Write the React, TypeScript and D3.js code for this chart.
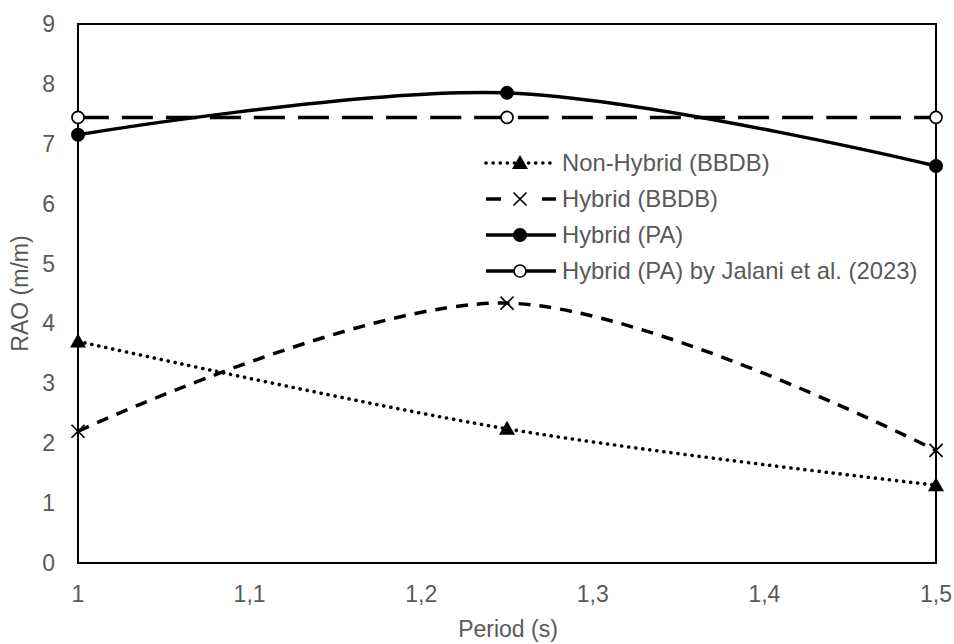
import React from "react";
import * as d3 from "d3";

const periods = [1, 1.25, 1.5];
const nonHybridBBDB = [3.7, 2.24, 1.3];
const hybridBBDB = [2.2, 4.34, 1.88];
const hybridPA = [7.15, 7.85, 6.63];
const hybridPAJalani = [7.44, 7.44, 7.44];

const xTicks = [1, 1.1, 1.2, 1.3, 1.4, 1.5];
const yTicks = [0, 1, 2, 3, 4, 5, 6, 7, 8, 9];

const legendLabels = [
  "Non-Hybrid (BBDB)",
  "Hybrid (BBDB)",
  "Hybrid (PA)",
  "Hybrid (PA) by Jalani et al. (2023)",
];

const W = 954;
const H = 644;
const L = 78, R = 936, T = 24, B = 563;
const textColor = "#595959";
const font = "'Liberation Sans', Arial, sans-serif";
const FS = 23;
const LFS = 23.8;

function Marker({ kind, x, y }: { kind: string; x: number; y: number }) {
  if (kind === "tri") {
    const s = 8;
    return <path d={`M${x},${y - s} L${x + s},${y + s * 0.75} L${x - s},${y + s * 0.75} Z`} fill="#000" />;
  }
  if (kind === "x") {
    const s = 6.5;
    return (
      <path d={`M${x - s},${y - s} L${x + s},${y + s} M${x - s},${y + s} L${x + s},${y - s}`} stroke="#000" strokeWidth={1.7} fill="none" />
    );
  }
  if (kind === "dot") return <circle cx={x} cy={y} r={7} fill="#000" />;
  return <circle cx={x} cy={y} r={6} fill="#fff" stroke="#000" strokeWidth={1.7} />;
}

export default function App() {
  const x = d3.scaleLinear().domain([1, 1.5]).range([L, R]);
  const y = d3.scaleLinear().domain([0, 9]).range([B, T]);
  const line = d3
    .line<number>()
    .x((_, i) => x(periods[i]))
    .y((d) => y(d))
    .curve(d3.curveCardinal.tension(0));

  const series = [
    { data: nonHybridBBDB, marker: "tri", dash: "0.1,7", width: 3.6, cap: "round", lDash: "0.1,7" },
    { data: hybridBBDB, marker: "x", dash: "12,9", width: 3.5, cap: "butt", lDash: "15,42" },
    { data: hybridPA, marker: "dot", dash: "none", width: 3.5, cap: "butt", lDash: "none" },
    { data: hybridPAJalani, marker: "open", dash: "31,13", width: 3.5, cap: "butt", lDash: "none" },
  ];
  const fmt = (v: number) => String(v).replace(".", ",");

  return (
    <svg width={W} height={H} style={{ position: "absolute", left: 0, top: 0, background: "#fff" }} fontFamily={font}>
      <rect x={0} y={0} width={W} height={H} fill="#fff" />
      <rect x={L} y={T} width={R - L} height={B - T} fill="none" stroke="#000" strokeWidth={2} />
      {yTicks.map((t) => (
        <text key={t} x={55} y={y(t)} dy="0.35em" textAnchor="end" fontSize={FS} fill={textColor}>
          {t}
        </text>
      ))}
      {xTicks.map((t) => (
        <text key={t} x={x(t)} y={594} dy="0.35em" textAnchor="middle" fontSize={FS} fill={textColor}>
          {fmt(t)}
        </text>
      ))}
      <text x={508} y={629} dy="0.35em" textAnchor="middle" fontSize={FS} fill={textColor}>
        Period (s)
      </text>
      <text transform={`translate(20,${(T + B) / 2}) rotate(-90)`} dy="0.35em" textAnchor="middle" fontSize={FS} fill={textColor}>
        RAO (m/m)
      </text>
      {[...series].reverse().map((s, k) => (
        <path
          key={k}
          d={line(s.data) || ""}
          fill="none"
          stroke="#000"
          strokeWidth={s.width}
          strokeDasharray={s.dash}
          strokeLinecap={s.cap as any}
        />
      ))}
      {series.map((s, k) =>
        s.data.map((v, i) => <Marker key={`${k}-${i}`} kind={s.marker} x={x(periods[i])} y={y(v)} />)
      )}
      {series.map((s, k) => {
        const ly = 163 + k * 36;
        return (
          <g key={k}>
            {s.marker === "x" ? (
              <>
                <line x1={486} x2={501} y1={ly} y2={ly} stroke="#000" strokeWidth={3.5} />
                <line x1={542} x2={556} y1={ly} y2={ly} stroke="#000" strokeWidth={3.5} />
              </>
            ) : (
              <line
                x1={486}
                x2={556}
                y1={ly}
                y2={ly}
                stroke="#000"
                strokeWidth={s.width}
                strokeDasharray={s.lDash}
                strokeLinecap={s.cap as any}
              />
            )}
            <Marker kind={s.marker} x={520} y={ly} />
            <text x={562} y={ly} dy="0.35em" fontSize={LFS} fill={textColor}>
              {legendLabels[k]}
            </text>
          </g>
        );
      })}
    </svg>
  );
}
